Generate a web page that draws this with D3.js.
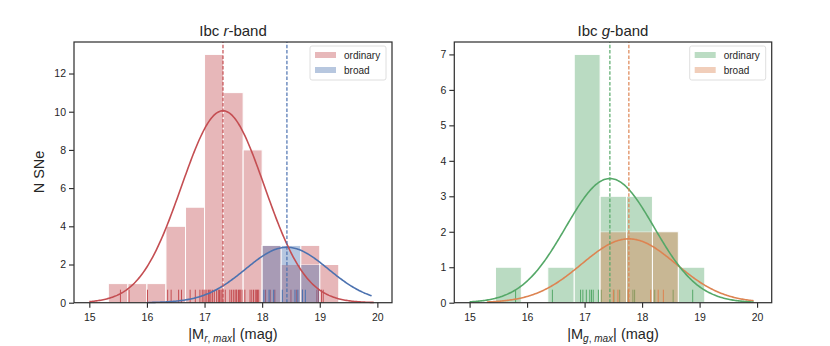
<!DOCTYPE html>
<html>
<head>
<meta charset="utf-8">
<script src="https://cdn.jsdelivr.net/npm/d3@7"></script>
<style>
  body { margin: 0; background: #fff; }
  text { font-family: Arial, "Liberation Sans", sans-serif; fill: #262626; }
</style>
</head>
<body>
<svg id="chart" width="830" height="346"></svg>
<script>
// ---- r-band ----
var rBinEdges = [15.33, 15.67, 16.0, 16.33, 16.67, 17.0, 17.33, 17.67, 18.0, 18.33, 18.67, 19.0, 19.33];
var rOrdinaryCounts = [1, 1, 1, 4, 5, 13, 11, 8, 3, 2, 3, 2];
var rBroadCounts = [0, 0, 0, 0, 0, 0, 0, 0, 3, 3, 2, 0];
var rOrdinaryRug = [15.54, 15.69, 16.01, 16.36, 16.42, 16.55, 16.60, 16.75, 16.84, 16.92, 16.96, 16.99,
  17.01, 17.04, 17.07, 17.09, 17.11, 17.14, 17.17, 17.21, 17.24, 17.26, 17.27, 17.30, 17.32,
  17.36, 17.44, 17.47, 17.50, 17.53, 17.55, 17.56, 17.59, 17.61, 17.62, 17.65,
  17.70, 17.79, 17.82, 17.85, 17.88, 17.90, 17.92, 17.94,
  18.06, 18.14, 18.22, 18.50, 18.60, 18.70, 18.95, 18.98, 19.03, 19.06];
var rBroadRug = [18.03, 18.12, 18.20, 18.35, 18.57, 18.62, 18.70, 18.75];
// fitted normal: [mean, sigma, peak height, x from, x to]
var rOrdinaryFit = [17.32, 0.72, 10.05, 15.0, 19.95];
var rBroadFit = [18.43, 0.72, 2.9, 16.0, 19.9];

// ---- g-band ----
var gBinEdges = [15.45, 15.90, 16.36, 16.82, 17.27, 17.73, 18.18, 18.63, 19.09];
var gOrdinaryCounts = [1, 0, 1, 7, 3, 3, 2, 1];
var gBroadCounts = [0, 0, 0, 0, 2, 2, 2, 0];
var gOrdinaryRug = [15.80, 16.44, 16.93, 16.97, 17.03, 17.09, 17.12, 17.15, 17.24, 17.29,
  17.51, 17.61, 17.76, 17.84, 17.87, 18.22, 18.54, 18.88];
var gBroadRug = [17.50, 17.58, 17.76, 18.15, 18.28, 18.37];
var gOrdinaryFit = [17.44, 0.77, 3.5, 15.0, 19.95];
var gBroadFit = [17.77, 0.82, 1.8, 15.3, 19.95];

var xTicks = [15, 16, 17, 18, 19, 20];
var rYTicks = [0, 2, 4, 6, 8, 10, 12];
var gYTicks = [0, 1, 2, 3, 4, 5, 6, 7];
var legendLabels = ["ordinary", "broad"];

var svg = d3.select("#chart");

function panel(opt) {
  var x = d3.scaleLinear().domain([14.734, 20.254]).range([opt.left, opt.right]);
  var y = d3.scaleLinear().domain([0, opt.ymax]).range([302.7, 42]);
  var g = svg.append("g");

  function hist(counts, color) {
    var bins = counts.map(function (c, i) {
      return { x0: opt.edges[i], x1: opt.edges[i + 1], n: c };
    }).filter(function (b) { return b.n > 0; });
    g.append("g")
      .attr("opacity", 0.4)
      .selectAll("rect")
      .data(bins)
      .enter()
      .append("rect")
      .attr("x", function (d) { return x(d.x0); })
      .attr("width", function (d) { return x(d.x1) - x(d.x0); })
      .attr("y", function (d) { return y(d.n); })
      .attr("height", function (d) { return y(0) - y(d.n); })
      .style("fill", color)
      .style("stroke", "white")
      .style("stroke-width", 1);
  }

  function rug(vals, color) {
    g.append("g")
      .selectAll("line")
      .data(vals)
      .enter()
      .append("line")
      .attr("x1", function (d) { return x(d); })
      .attr("x2", function (d) { return x(d); })
      .attr("y1", y(0))
      .attr("y2", y(0) - 13)
      .style("stroke", color)
      .style("stroke-width", 1);
  }

  function fit(p, color) {
    var pts = d3.range(p[3], p[4] + 1e-9, 0.02).map(function (v) {
      return [v, p[2] * Math.exp(-Math.pow(v - p[0], 2) / (2 * p[1] * p[1]))];
    });
    g.append("path")
      .datum(pts)
      .attr("d", d3.line().x(function (d) { return x(d[0]); }).y(function (d) { return y(d[1]); }))
      .style("fill", "none")
      .style("stroke", color)
      .style("stroke-width", 1.6);
  }

  function vline(v, color) {
    g.append("line")
      .attr("x1", x(v)).attr("x2", x(v))
      .attr("y1", y(0)).attr("y2", 42)
      .style("stroke", color)
      .style("stroke-width", 1.2)
      .style("stroke-dasharray", "3.5,1.8");
  }

  hist(opt.counts[0], opt.colors[0]);
  rug(opt.rugs[0], opt.colors[0]);
  hist(opt.counts[1], opt.colors[1]);
  rug(opt.rugs[1], opt.colors[1]);
  fit(opt.fits[1], opt.colors[1]);
  fit(opt.fits[0], opt.colors[0]);
  vline(opt.fits[0][0], opt.colors[0]);
  vline(opt.fits[1][0], opt.colors[1]);

  // axes
  var xa = g.append("g")
    .attr("transform", "translate(0," + y(0) + ")")
    .call(d3.axisBottom(x).tickValues(xTicks).tickFormat(d3.format("d"))
      .tickSize(5).tickPadding(6).tickSizeOuter(0));
  var ya = g.append("g")
    .attr("transform", "translate(" + opt.left + ",0)")
    .call(d3.axisLeft(y).tickValues(opt.yticks).tickFormat(d3.format("d"))
      .tickSize(5).tickPadding(3).tickSizeOuter(0));
  [xa, ya].forEach(function (a) {
    a.select(".domain").remove();
    a.selectAll("line").style("stroke", "#262626").style("stroke-width", 1.1);
    a.selectAll("text").style("font-size", "10.5px").style("fill", "#262626")
      .style("font-family", 'Arial, "Liberation Sans", sans-serif');
  });

  g.append("rect")
    .attr("x", opt.left).attr("y", 42)
    .attr("width", opt.right - opt.left).attr("height", y(0) - 42)
    .style("fill", "none").style("stroke", "#333").style("stroke-width", 1.25);

  // title
  var t = g.append("text")
    .attr("x", (opt.left + opt.right) / 2).attr("y", 36)
    .attr("text-anchor", "middle").style("font-size", "15px");
  t.append("tspan").text("Ibc ");
  t.append("tspan").style("font-style", "italic").text(opt.band);
  t.append("tspan").text("-band");

  // x label
  var xl = g.append("text")
    .attr("x", (opt.left + opt.right) / 2).attr("y", 339)
    .attr("text-anchor", "middle").style("font-size", "14.5px");
  xl.append("tspan").text("|M");
  xl.append("tspan").attr("dy", 3).style("font-size", "10px").style("font-style", "italic").text(opt.band);
  xl.append("tspan").style("font-size", "10px").text(", ");
  xl.append("tspan").style("font-size", "10px").style("font-style", "italic").text("max");
  xl.append("tspan").attr("dy", -3).text("| (mag)");

  // legend
  var lg = g.append("g").attr("transform", "translate(" + (opt.right - 82) + ",46)");
  lg.append("rect")
    .attr("width", 76).attr("height", 34).attr("rx", 2)
    .style("fill", "white").style("fill-opacity", 0.8)
    .style("stroke", "#d6d6d6").style("stroke-width", 0.8);
  legendLabels.forEach(function (lab, i) {
    lg.append("rect")
      .attr("x", 5).attr("y", 6 + i * 15).attr("width", 21).attr("height", 6)
      .style("fill", opt.colors[i]).style("opacity", 0.4);
    lg.append("text")
      .attr("x", 34).attr("y", 12.5 + i * 15)
      .style("font-size", "10px").text(lab);
  });
}

panel({
  left: 74, right: 392, ymax: 13.65, band: "r",
  edges: rBinEdges, counts: [rOrdinaryCounts, rBroadCounts],
  rugs: [rOrdinaryRug, rBroadRug], fits: [rOrdinaryFit, rBroadFit],
  colors: ["#C44E52", "#4C72B0"], yticks: rYTicks
});
panel({
  left: 454.3, right: 771.7, ymax: 7.35, band: "g",
  edges: gBinEdges, counts: [gOrdinaryCounts, gBroadCounts],
  rugs: [gOrdinaryRug, gBroadRug], fits: [gOrdinaryFit, gBroadFit],
  colors: ["#55A868", "#DD8452"], yticks: gYTicks
});

svg.append("text")
  .attr("transform", "translate(44,172) rotate(-90)")
  .attr("text-anchor", "middle")
  .style("font-size", "14.5px")
  .text("N SNe");
</script>
</body>
</html>
